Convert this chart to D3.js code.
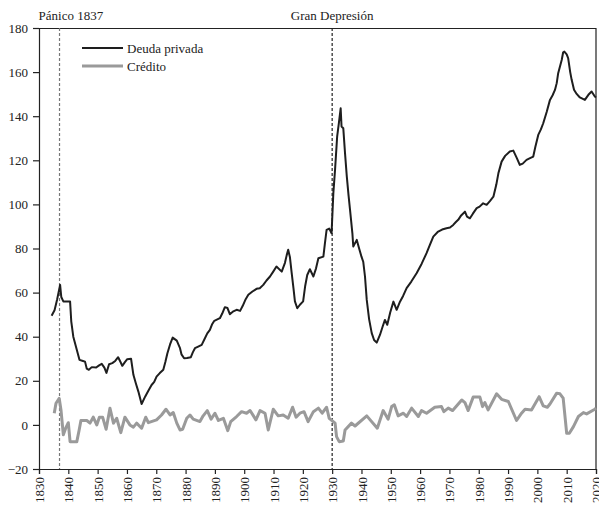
<!DOCTYPE html>
<html>
<head>
<meta charset="utf-8">
<script src="https://cdn.jsdelivr.net/npm/d3@7"></script>
<style>
    body { margin: 0; background: #fff; }
    #chart-area text { font-family: "Liberation Serif", "DejaVu Serif", serif; }
</style>
</head>
<body>
<div id="chart-area"></div>
<script>
// Deuda privada (black line): year, value
const deudaYears = [1834.3, 1835.3, 1836.2, 1837.2, 1837.6, 1838.3, 1839.5, 1840.6, 1841, 1841.7, 1842.5, 1843.8, 1845, 1845.7, 1846.3, 1847, 1848, 1849.5, 1850.5, 1851.4, 1852.3, 1853, 1853.9, 1855, 1856, 1857, 1857.8, 1858.4, 1859.3, 1860.1, 1861.4, 1862.2, 1863, 1863.9, 1865, 1866.2, 1867.3, 1868.4, 1869.3, 1870.1, 1871.2, 1872.4, 1873.1, 1873.8, 1874.7, 1875.6, 1877, 1878.1, 1878.6, 1879.5, 1880.5, 1881.8, 1882.5, 1883.2, 1884.3, 1885.5, 1886.6, 1887.4, 1888.3, 1889, 1889.8, 1891.7, 1892.5, 1893.4, 1894.3, 1895.1, 1896.3, 1897.4, 1898.6, 1899.5, 1900.5, 1901.4, 1902.8, 1904.2, 1905.3, 1906.5, 1907.6, 1908.8, 1909.9, 1911, 1912.8, 1913.9, 1914.5, 1915, 1915.6, 1916.2, 1916.8, 1917.3, 1918.1, 1919, 1920.1, 1920.8, 1921.5, 1922.4, 1923.6, 1924.5, 1925.3, 1927, 1927.5, 1928.1, 1929, 1929.8, 1930.4, 1931, 1931.7, 1932.3, 1932.9, 1933.2, 1933.8, 1934.4, 1935, 1935.6, 1936.1, 1936.9, 1937.2, 1938.4, 1939.2, 1940, 1940.6, 1941.2, 1941.8, 1942.6, 1943.5, 1944.3, 1945.2, 1946.3, 1947.2, 1948, 1948.8, 1949.8, 1950.9, 1952, 1953, 1954.2, 1955.4, 1957, 1958.8, 1960.5, 1962.2, 1963.3, 1964.5, 1966, 1967.5, 1969, 1970.2, 1971.3, 1972.2, 1973, 1974, 1975.3, 1976, 1977, 1978, 1979.3, 1980.3, 1981.5, 1982.7, 1983.8, 1985, 1986, 1986.7, 1987.8, 1989, 1990.6, 1991.8, 1993, 1994, 1995, 1996.3, 1997.5, 1998.6, 1999.3, 2000.3, 2001.2, 2002, 2003.2, 2004.3, 2005.2, 2006, 2006.6, 2007.1, 2008.3, 2008.8, 2009.2, 2010, 2010.5, 2011.2, 2011.7, 2012.5, 2013.4, 2014.5, 2016.2, 2017.4, 2018.5, 2019.6, 2020];
const deudaValues = [49.5, 52, 57, 63.5, 58, 56, 56, 56, 47, 40, 36, 29.5, 29, 28.7, 25.5, 25, 26.2, 26, 27, 27.7, 26, 23.6, 27.5, 28, 29, 30.7, 28.5, 26.8, 28.5, 29.8, 30, 22.7, 19, 15.1, 9.5, 12.8, 15.5, 18.1, 19.5, 21.9, 23.5, 25, 28.5, 32.5, 36.5, 39.6, 38.2, 34.8, 32, 30.2, 30.3, 30.7, 33, 34.8, 35.5, 36.3, 39.3, 41.5, 43.1, 45.5, 47.2, 48.4, 50.5, 53.4, 53, 50.2, 51.5, 52.2, 51.7, 54, 57, 59, 60.5, 61.7, 62, 63.5, 65.5, 67.3, 69.5, 71.8, 69.5, 73.5, 77, 79.4, 76, 68.8, 62, 56, 52.9, 54.5, 56, 63, 68, 70.6, 67.3, 71, 75.6, 76.3, 82, 88.4, 89, 86.9, 105, 116, 130.7, 137, 143.6, 135.3, 134.5, 123, 112.6, 104, 97.5, 86.9, 80.9, 83.9, 80, 76.3, 74, 67.3, 56.7, 48, 41.6, 38.5, 37.3, 40.8, 44.5, 47.6, 45.4, 51, 55.9, 52.2, 55.5, 58.5, 62, 65, 68.8, 73, 77.9, 81.5, 85.4, 87.5, 88.6, 89.2, 89.5, 90.7, 92, 93, 95, 96.7, 94.5, 93.7, 95.8, 98.3, 99, 100.5, 99.8, 101.5, 103.5, 109, 114.1, 119.4, 122, 124, 124.4, 121, 117.9, 118.5, 120.2, 121, 121.7, 126, 131.5, 134, 136.8, 142, 147.4, 149.5, 151.9, 155, 159.5, 165.5, 169, 169.3, 168, 166.3, 160, 156.5, 152, 150.1, 148.5, 147.4, 149.7, 151.2, 148.9, 148.5];

// Credito (gray line): year, value
const creditoYears = [1835.2, 1835.8, 1836.9, 1837.5, 1838.3, 1839.1, 1840, 1840.6, 1842.9, 1843.7, 1844.3, 1846.3, 1847.4, 1848.5, 1849.7, 1850.6, 1851.7, 1852.9, 1854.2, 1855.4, 1856.5, 1857.9, 1859.3, 1861, 1862.2, 1863.3, 1865, 1866.4, 1867.3, 1870.1, 1871.8, 1873.3, 1874.7, 1875.8, 1877, 1878.1, 1879, 1880.4, 1881.5, 1882.6, 1884.9, 1886, 1887.4, 1888.7, 1890, 1891.2, 1892.9, 1894.4, 1895.4, 1897.4, 1899.1, 1900.8, 1902, 1904, 1905.4, 1907.1, 1908.2, 1909.9, 1911.6, 1913.3, 1915, 1916.5, 1917.7, 1919, 1920.4, 1921.8, 1923.6, 1925.3, 1926.6, 1928.1, 1929, 1931, 1931.5, 1932.4, 1933.8, 1934.4, 1936.6, 1937.8, 1941.8, 1945.4, 1947.4, 1949.1, 1950.3, 1951.2, 1952.5, 1954.3, 1955.4, 1957.1, 1959.4, 1960.5, 1962.2, 1965, 1967.3, 1968.1, 1969.6, 1971.1, 1974.2, 1975.3, 1976.4, 1978.1, 1980.4, 1981.3, 1982.1, 1983.2, 1986.1, 1987.8, 1990.1, 1992.9, 1994.6, 1995.8, 1998, 2000.6, 2002, 2003.4, 2004.3, 2006.6, 2007.7, 2008.8, 2010, 2010.9, 2012.3, 2014, 2015.7, 2016.8, 2019.6, 2020];
const creditoValues = [5.3, 9.8, 12, 6.8, -4.5, -1.5, 1, -7.6, -7.6, -2.3, 2, 2, 0.8, 3.5, 0, 3.5, 3.5, -2, 7.6, 0.8, 3, -3.5, 3.5, 0, -1, 0.8, -1.5, 3.5, 1, 2.3, 4.5, 7.1, 4.5, 5.6, 0.8, -2.3, -2, 3, 4.5, 2.6, 1.5, 4.1, 6.5, 2.6, 5.3, 2, 3, -2.6, 1.5, 3.8, 6, 5.3, 6.5, 2.3, 6.5, 5.3, -2.3, 7.1, 4.1, 4.5, 3, 8, 3.5, 5.3, 6, 1.5, 6, 7.6, 5.3, 8, 3, 0.8, -5.3, -7.6, -7.3, -2.3, 0.8, -0.5, 4.1, -1.5, 6.5, 2.6, 8.3, 9.1, 4.1, 5.3, 3.8, 7.6, 3.8, 6.5, 5.3, 8, 8.3, 6, 7.6, 6.5, 11.3, 10.1, 6.5, 12.6, 12.6, 8.3, 10.1, 6.8, 14.1, 11.6, 10.6, 2, 5.3, 7.1, 6.8, 12.8, 8.6, 8, 9.5, 14.4, 14.1, 12.1, -3.8, -3.8, -0.8, 3.8, 5.6, 5, 7.1, 7.6];

const xTicks = d3.range(1830, 2021, 10);
const yTicks = d3.range(-20, 181, 20);

const events = [
    { year: 1837, label: "Pánico 1837", color: "#777", anchor: "start", dx: -21 },
    { year: 1930, label: "Gran Depresión", color: "#222", anchor: "middle", dx: 0 }
];

const legendItems = [
    { label: "Deuda privada", color: "#1e1e1e", width: 2 },
    { label: "Crédito", color: "#9a9a9a", width: 3 }
];

let margin = { top: 28, right: 3, bottom: 37, left: 39 };
let width = 599 - margin.left - margin.right,
    height = 506 - margin.top - margin.bottom;

let svg = d3.select("#chart-area").append("svg")
    .attr("width", 599)
    .attr("height", 506)
    .append("g")
    .attr("transform", "translate(" + margin.left + "," + margin.top + ")");

let x = d3.scaleLinear().domain([1830, 2020]).range([0, width]);
let y = d3.scaleLinear().domain([-20, 180]).range([height, 0]);

// frame (top + right)
svg.append("path")
    .attr("d", "M0,0.5H" + width + "V" + height)
    .attr("fill", "none")
    .attr("stroke", "#222")
    .attr("stroke-width", 1.2);

// axes
let yAxis = svg.append("g")
    .call(d3.axisLeft(y).tickValues(yTicks).tickSize(6).tickPadding(5));
yAxis.selectAll("text").attr("font-size", 13).attr("fill", "#222");

let xAxis = svg.append("g")
    .attr("transform", "translate(0," + height + ")")
    .call(d3.axisBottom(x).tickValues(xTicks).tickFormat(d3.format("d")).tickSize(5));
xAxis.selectAll("text")
    .attr("font-size", 13)
    .attr("fill", "#222")
    .attr("transform", "rotate(-90)")
    .attr("text-anchor", "end")
    .attr("x", -8)
    .attr("y", 0)
    .attr("dy", "0.35em");

svg.selectAll(".domain, .tick line").attr("stroke", "#222").attr("stroke-width", 1.2);

// event lines
svg.selectAll(".event-line")
    .data(events)
    .enter().append("line")
    .attr("class", "event-line")
    .attr("x1", d => x(d.year))
    .attr("x2", d => x(d.year))
    .attr("y1", 0)
    .attr("y2", height)
    .attr("stroke", d => d.color)
    .attr("stroke-width", 1.2)
    .attr("stroke-dasharray", "3,2");

svg.selectAll(".event-label")
    .data(events)
    .enter().append("text")
    .attr("class", "event-label")
    .attr("x", d => x(d.year) + d.dx)
    .attr("y", -8)
    .attr("text-anchor", d => d.anchor)
    .attr("font-size", 13)
    .attr("fill", "#222")
    .text(d => d.label);

// lines
let line = d3.line()
    .x(d => x(d[0]))
    .y(d => y(d[1]));

let deuda = d3.zip(deudaYears, deudaValues);
let credito = d3.zip(creditoYears, creditoValues);

svg.append("path")
    .datum(credito)
    .attr("fill", "none")
    .attr("stroke", legendItems[1].color)
    .attr("stroke-width", legendItems[1].width)
    .attr("stroke-linejoin", "round")
    .attr("d", line);

svg.append("path")
    .datum(deuda)
    .attr("fill", "none")
    .attr("stroke", legendItems[0].color)
    .attr("stroke-width", legendItems[0].width)
    .attr("stroke-linejoin", "round")
    .attr("d", line);

// legend
let legend = svg.selectAll(".legend")
    .data(legendItems)
    .enter().append("g")
    .attr("class", "legend")
    .attr("transform", (d, i) => "translate(43," + (20 + i * 18) + ")");

legend.append("line")
    .attr("x1", 0).attr("x2", 41)
    .attr("stroke", d => d.color)
    .attr("stroke-width", d => d.width);

legend.append("text")
    .attr("x", 45)
    .attr("dy", "0.35em")
    .attr("font-size", 13)
    .attr("fill", "#222")
    .text(d => d.label);
</script>
</body>
</html>
